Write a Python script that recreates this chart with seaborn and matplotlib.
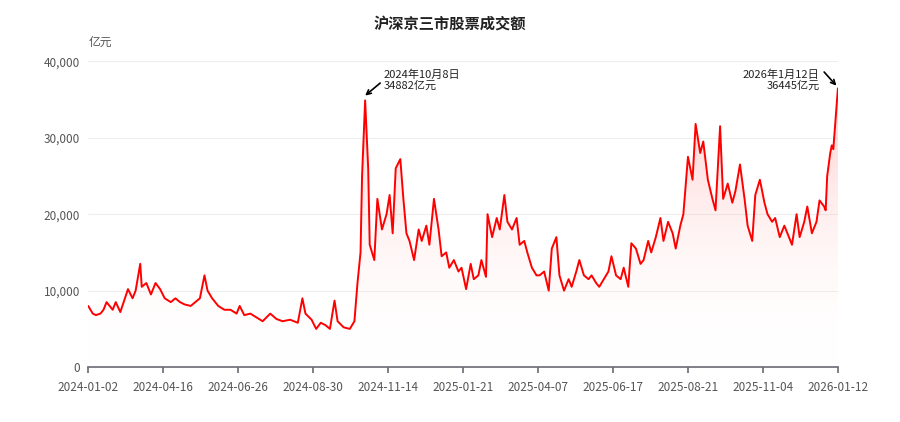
import matplotlib
matplotlib.use("Agg")
import matplotlib.pyplot as plt
import seaborn as sns
import numpy as np
import pandas as pd

# trading-day index (0 = 2024-01-02) and turnover, 100M yuan
day = [0, 3, 5, 8, 10, 12, 16, 18, 21, 24, 26, 29, 31, 34, 35, 38, 41, 44, 47, 50, 54, 57, 60, 63, 67, 70, 73,
       76, 78, 81, 85, 89, 93, 97, 99, 102, 106, 110, 114, 119, 123, 127, 132, 137, 140, 142, 146, 149, 152,
       155, 158, 161, 163, 167, 171, 174, 176, 178, 179, 181, 183, 184, 187, 189, 192, 195, 197, 199, 201,
       204, 206, 208, 210, 213, 216, 218, 221, 223, 226, 229, 231, 234, 236, 239, 242, 244, 247, 250, 252,
       255, 257, 260, 261, 264, 267, 269, 272, 274, 277, 280, 282, 285, 287, 290, 293, 295, 298, 301, 303,
       306, 308, 311, 314, 316, 319, 321, 324, 327, 329, 332, 334, 337, 340, 342, 345, 348, 350, 353, 355,
       358, 361, 363, 366, 368, 371, 374, 376, 379, 382, 384, 387, 389, 392, 395, 397, 400, 402, 405, 408,
       410, 413, 415, 418, 421, 423, 426, 429, 431, 434, 436, 439, 442, 444, 447, 449, 452, 455, 457, 460,
       463, 465, 468, 470, 473, 476, 478, 481, 482, 483, 485, 486, 487, 490]
turnover = [8000, 7000, 6800, 7000, 7500, 8500, 7500, 8500, 7200, 9000, 10200, 9000, 10000, 13500, 10500, 11000,
            9500, 11000, 10200, 9000, 8500, 9000, 8500, 8200, 8000, 8500, 9000,
            12000, 10000, 9000, 8000, 7500, 7500, 7000, 8000, 6800, 7000, 6500, 6000, 7000, 6300, 6000, 6200,
            5800, 9000, 7000, 6200, 5000, 5800, 5500, 5000, 8700, 6000, 5200, 5000, 6000, 11000, 15000, 25000,
            34882, 26000, 16000, 14000, 22000, 18000, 20000, 22500, 17500, 26000, 27200, 22000, 17500, 16500,
            14000, 18000, 16500, 18500, 16000, 22000, 18000, 14500, 15000, 13000, 14000, 12500, 13000, 10200,
            13500, 11500, 12000, 14000, 11800, 20000, 17000, 19500, 18000, 22500, 19000, 18000, 19500, 16000,
            16500, 15000, 13000, 12000, 12000, 12500, 10000, 15500, 17000, 12000, 10000, 11500, 10500, 12500,
            14000, 12000, 11500, 12000, 11000, 10500, 11500, 12500, 14500, 12000, 11500, 13000, 10500, 16200,
            15500, 13500, 14000, 16500, 15000, 17000, 19500, 16500, 19000, 17500, 15500, 18500, 20000, 27500,
            24500, 31800, 28000, 29500, 24500, 22000, 20500, 31500, 22000, 24000, 21500, 23000, 26500, 22000,
            18500, 16500, 22500, 24500, 21500, 20000, 19000, 19500, 17000, 18500, 17500, 16000, 20000, 17000,
            19000, 21000, 17500, 19000, 21800, 21000, 20500, 25000, 28000, 29000, 28500, 36445]
tick_pos = [0, 49, 98, 147, 196, 245, 294, 343, 392, 441, 490]
tick_labels = ["2024-01-02", "2024-04-16", "2024-06-26", "2024-08-30", "2024-11-14", "2025-01-21",
               "2025-04-07", "2025-06-17", "2025-08-21", "2025-11-04", "2026-01-12"]

df = pd.DataFrame({"day": day, "turnover": turnover})

sns.set_theme(style="white")
plt.rcParams['font.family'] = ['Noto Sans CJK SC', 'DejaVu Sans']

fig = plt.figure(figsize=(9, 4.22), dpi=100)
ax = fig.add_axes([0.098, 0.130, 0.833, 0.725])

sns.lineplot(data=df, x="day", y="turnover", ax=ax, color="#ff0000", linewidth=1.4)

# gradient fill under the line
poly = ax.fill_between(df["day"], df["turnover"], 0, color="none")
grad = np.linspace(0, 1, 256).reshape(-1, 1)
cmap = matplotlib.colors.LinearSegmentedColormap.from_list("g", [(1, 1, 1, 0), (1, 0.3, 0.3, 0.3)])
img = ax.imshow(grad, extent=[0, 490, 0, 37000], origin="lower", aspect="auto", cmap=cmap, zorder=1)
img.set_clip_path(poly.get_paths()[0], transform=ax.transData)

ax.set_xlim(0, 490)
ax.set_ylim(0, 40000)
ax.set_yticks([0, 10000, 20000, 30000, 40000])
ax.set_yticklabels(["0", "10,000", "20,000", "30,000", "40,000"])
ax.set_xticks(tick_pos)
ax.set_xticklabels(tick_labels)
ax.tick_params(axis="both", labelsize=8.5, colors="#555555", length=0, pad=6)
ax.tick_params(axis="x", length=4, color="#6e7079", direction="out", bottom=True)
ax.yaxis.grid(True, color="#eeeeee", linewidth=0.8)
for s in ["top", "right", "left"]:
    ax.spines[s].set_visible(False)
ax.spines["bottom"].set_color("#6e7079")
ax.set_xlabel("")
ax.set_ylabel("")

fig.text(0.5, 0.945, "沪深京三市股票成交额", ha="center", va="center", fontsize=11, fontweight="bold", color="#222222")
fig.text(0.098, 0.9, "亿元", ha="left", va="center", fontsize=8.5, color="#555555")

ax.annotate("2024年10月8日\n34882亿元", xy=(181, 35500), xytext=(193, 37500), fontsize=8, color="#222222",
            va="center", linespacing=1.0,
            arrowprops=dict(arrowstyle="->", color="black", lw=1.2, shrinkA=0, shrinkB=0,
                            relpos=(0, 0.5)))
ax.annotate("2026年1月12日\n36445亿元", xy=(489, 36800), xytext=(478, 37500), fontsize=8, color="#222222",
            va="center", ha="right", linespacing=1.0,
            arrowprops=dict(arrowstyle="->", color="black", lw=1.2, shrinkA=0, shrinkB=0,
                            relpos=(1.06, 0.9)))

fig.savefig("out.png", dpi=100)
